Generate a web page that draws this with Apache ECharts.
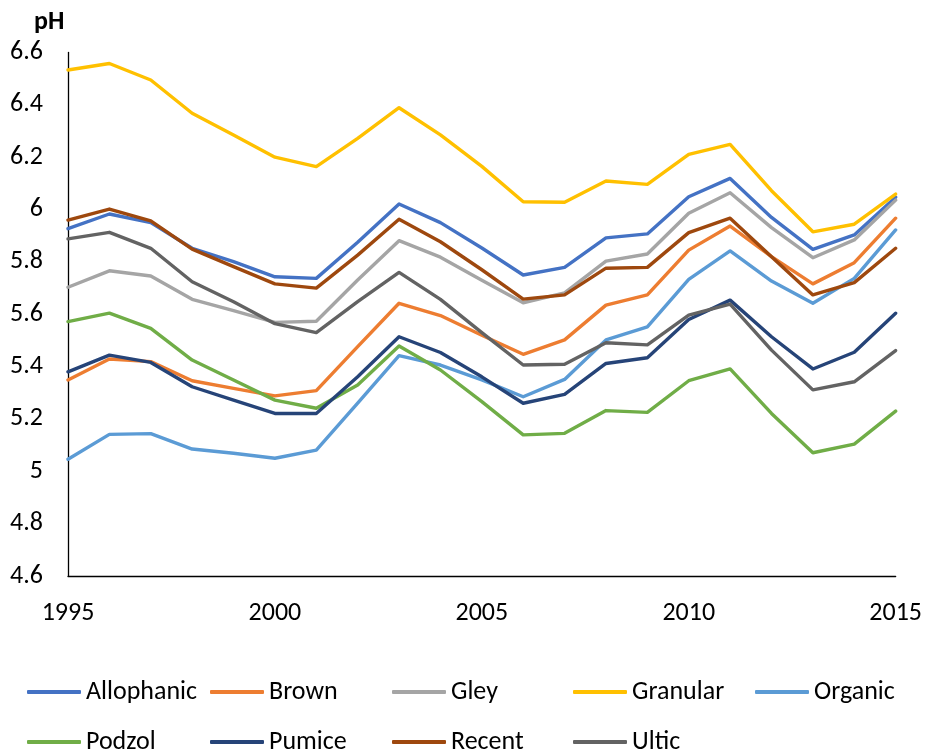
<!DOCTYPE html>
<html>
<head>
<meta charset="utf-8">
<script src="https://cdn.jsdelivr.net/npm/echarts@6/dist/echarts.min.js"></script>
<style>
html,body{margin:0;padding:0;background:#fff;}
#chart{width:925px;height:755px;}
</style>
</head>
<body>
<div id="chart"></div>
<script>
const years = [1995,1996,1997,1998,1999,2000,2001,2002,2003,2004,2005,2006,2007,2008,2009,2010,2011,2012,2013,2014,2015];
const seriesNames = ['Allophanic','Brown','Gley','Granular','Organic','Podzol','Pumice','Recent','Ultic'];
const colors = ['#4472C4','#ED7D31','#A5A5A5','#FFC000','#5B9BD5','#70AD47','#264478','#9E480E','#636363'];

const allophanic = [5.927,5.983,5.950,5.852,5.801,5.743,5.737,5.875,6.021,5.950,5.853,5.750,5.779,5.892,5.907,6.049,6.119,5.970,5.848,5.903,6.047];
const brown      = [5.349,5.429,5.419,5.346,5.317,5.288,5.308,5.476,5.642,5.595,5.520,5.447,5.502,5.635,5.674,5.845,5.937,5.820,5.716,5.797,5.967];
const gley       = [5.703,5.766,5.746,5.657,5.614,5.569,5.573,5.731,5.881,5.818,5.730,5.644,5.682,5.803,5.830,5.986,6.064,5.931,5.816,5.884,6.036];
const granular   = [6.533,6.558,6.495,6.368,6.285,6.200,6.164,6.272,6.389,6.285,6.165,6.030,6.028,6.109,6.096,6.211,6.249,6.072,5.915,5.944,6.059];
const organic    = [5.046,5.141,5.144,5.085,5.069,5.050,5.081,5.260,5.442,5.406,5.349,5.285,5.351,5.502,5.552,5.733,5.842,5.727,5.642,5.737,5.922];
const podzol     = [5.572,5.604,5.546,5.425,5.349,5.272,5.241,5.330,5.479,5.387,5.266,5.139,5.145,5.232,5.225,5.346,5.391,5.221,5.071,5.104,5.230];
const pumice     = [5.380,5.444,5.416,5.323,5.272,5.221,5.221,5.361,5.514,5.454,5.361,5.260,5.294,5.412,5.434,5.580,5.654,5.514,5.391,5.455,5.604];
const recent     = [5.960,6.002,5.957,5.849,5.782,5.716,5.700,5.826,5.963,5.877,5.770,5.658,5.674,5.776,5.779,5.912,5.967,5.820,5.674,5.721,5.852];
const ultic      = [5.888,5.913,5.852,5.724,5.648,5.564,5.530,5.648,5.760,5.657,5.530,5.406,5.409,5.491,5.483,5.597,5.639,5.463,5.311,5.342,5.461];

const values = [allophanic,brown,gley,granular,organic,podzol,pumice,recent,ultic];
const xTicks = {min:1995, max:2015, interval:5};
const yTicks = {min:4.6, max:6.6, interval:0.2};

const FONT = "'Carlito','Liberation Sans',Arial,sans-serif";

const series = seriesNames.map((name,i)=>({
  name: name,
  type: 'line',
  data: years.map((y,j)=>[y, values[i][j]]),
  showSymbol: false,
  symbol: 'none',
  lineStyle: {width: 3.4, color: colors[i], cap:'round', join:'round'},
  itemStyle: {color: colors[i]},
  emphasis: {disabled: true},
  animation: false
}));

const legendCols = [
  {left: 27,  names: ['Allophanic','Podzol']},
  {left: 210, names: ['Brown','Pumice']},
  {left: 392, names: ['Gley','Recent']},
  {left: 573, names: ['Granular','Ultic']},
  {left: 755, names: ['Organic']}
];
const legends = legendCols.map(c=>({
  orient: 'vertical',
  left: c.left,
  top: 678,
  height: 120,
  padding: 0,
  itemGap: 22,
  itemWidth: 54,
  itemHeight: 4,
  icon: 'roundRect',
  data: c.names,
  selectedMode: false,
  textStyle: {fontFamily: FONT, fontSize: 26, color: '#000', lineHeight: 28, padding:[0,0,0,0]}
}));

const chart = echarts.init(document.getElementById('chart'), null, {renderer:'canvas'});
chart.setOption({
  animation: false,
  backgroundColor: '#fff',
  title: {
    text: 'pH', left: 34, top: 9, padding: 0,
    textStyle: {fontFamily: FONT, fontSize: 26, fontWeight: 'bold', color: '#000'}
  },
  legend: legends,
  grid: {left: 68, right: 29, top: 52.5, bottom: 179, containLabel: false},
  xAxis: {
    type: 'value', min: xTicks.min, max: xTicks.max, interval: xTicks.interval,
    axisLine: {show: true, onZero: false, lineStyle: {color: '#000', width: 1.3}},
    axisTick: {show: false},
    splitLine: {show: false},
    axisLabel: {fontFamily: FONT, fontSize: 26, color: '#000', margin: 24, formatter: v => String(v)}
  },
  yAxis: {
    type: 'value', min: yTicks.min, max: yTicks.max, interval: yTicks.interval,
    axisLine: {show: true, lineStyle: {color: '#000', width: 1.3}},
    axisTick: {show: false},
    splitLine: {show: false},
    axisLabel: {fontFamily: FONT, fontSize: 26, color: '#000', margin: 25,
      formatter: v => String(Math.round(v*10)/10)}
  },
  series: series
});
</script>
</body>
</html>
